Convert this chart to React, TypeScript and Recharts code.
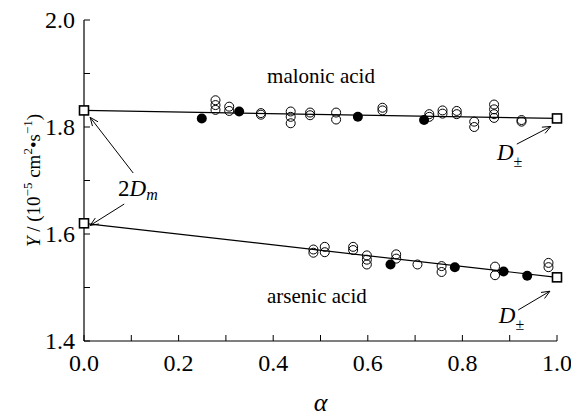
import { ComposedChart, XAxis, YAxis, Line, Scatter, ReferenceLine, ReferenceDot } from "recharts";

const X_TICKS = [0, 0.1, 0.2, 0.3, 0.4, 0.5, 0.6, 0.7, 0.8, 0.9, 1.0];
const Y_TICKS = [1.4, 1.5, 1.6, 1.7, 1.8, 1.9, 2.0];

// [alpha, Y]
const malonicOpen = [
  [0.278, 1.850], [0.278, 1.841], [0.278, 1.832],
  [0.307, 1.838], [0.307, 1.830],
  [0.374, 1.826], [0.374, 1.823],
  [0.437, 1.829], [0.437, 1.819], [0.437, 1.807],
  [0.478, 1.827], [0.478, 1.822],
  [0.533, 1.827], [0.533, 1.814],
  [0.631, 1.836], [0.631, 1.831],
  [0.730, 1.824], [0.730, 1.819],
  [0.758, 1.831], [0.758, 1.825],
  [0.788, 1.830], [0.788, 1.824],
  [0.825, 1.810], [0.825, 1.800],
  [0.867, 1.842], [0.867, 1.833], [0.867, 1.824], [0.867, 1.817],
  [0.925, 1.813], [0.925, 1.810],
];
const malonicFilled = [[0.249, 1.816], [0.328, 1.829], [0.579, 1.819], [0.719, 1.813]];
const malonicEnds = [[0, 1.831], [1, 1.816]];

const arsenicOpen = [
  [0.485, 1.571], [0.485, 1.565],
  [0.509, 1.576], [0.509, 1.566],
  [0.569, 1.576], [0.569, 1.570],
  [0.598, 1.560], [0.598, 1.552], [0.598, 1.543],
  [0.660, 1.562], [0.660, 1.554],
  [0.705, 1.543],
  [0.756, 1.540], [0.756, 1.529],
  [0.869, 1.539], [0.869, 1.523],
  [0.982, 1.546], [0.982, 1.538],
];
const arsenicFilled = [[0.648, 1.543], [0.784, 1.538], [0.887, 1.530], [0.937, 1.522]];
const arsenicEnds = [[0, 1.620], [1, 1.519]];

const toPts = (arr: number[][]) => arr.map(([a, y]) => ({ a, y }));

const FONT = "'Liberation Serif', 'Times New Roman', serif";
const ax = { xAxisId: "b", yAxisId: "l" };

const isMajor = (v: number) => Math.round(v * 10) % 2 === 0;

const BottomTick = (p: any) => (
  <g>
    <line x1={p.x} y1={p.y} x2={p.x} y2={p.y - 6} stroke="#000" />
    {isMajor(p.payload.value) && (
      <text x={p.x} y={p.y + 30} textAnchor="middle" fontSize={24} fontFamily={FONT} fill="#000">
        {p.payload.value.toFixed(1)}
      </text>
    )}
  </g>
);
const TopTick = (p: any) => <line x1={p.x} y1={p.y} x2={p.x} y2={p.y + 6} stroke="#000" />;
const LeftTick = (p: any) => (
  <g>
    <line x1={p.x} y1={p.y} x2={p.x + 6} y2={p.y} stroke="#000" />
    {isMajor(p.payload.value) && (
      <text x={p.x - 9} y={p.y + 8} textAnchor="end" fontSize={24} fontFamily={FONT} fill="#000">
        {p.payload.value.toFixed(1)}
      </text>
    )}
  </g>
);
const RightTick = (p: any) => <line x1={p.x} y1={p.y} x2={p.x - 6} y2={p.y} stroke="#000" />;

const OpenDot = (p: any) => <circle cx={p.cx} cy={p.cy} r={4.5} fill="none" stroke="#000" strokeWidth={1} />;
const FilledDot = (p: any) => <circle cx={p.cx} cy={p.cy} r={5} fill="#000" />;
const Square = (p: any) => (
  <rect x={p.cx - 4.5} y={p.cy - 4.5} width={9} height={9} fill="#fff" stroke="#000" strokeWidth={1.6} />
);

const Arrow = (p: any) => {
  const { x1, y1, x2, y2 } = p;
  const ang = Math.atan2(y2 - y1, x2 - x1);
  const L = 9, w = 0.4;
  const h1 = [x2 - L * Math.cos(ang - w), y2 - L * Math.sin(ang - w)];
  const h2 = [x2 - L * Math.cos(ang + w), y2 - L * Math.sin(ang + w)];
  return (
    <g stroke="#000" strokeWidth={1} fill="none">
      <line x1={x1} y1={y1} x2={x2} y2={y2} />
      <polyline points={`${h1[0]},${h1[1]} ${x2},${y2} ${h2[0]},${h2[1]}`} />
    </g>
  );
};

const arrows = [
  [[0.104, 1.714], [0.013, 1.818]],
  [[0.085, 1.656], [0.013, 1.616]],
  [[0.915, 1.768], [0.987, 1.801]],
  [[0.918, 1.458], [0.985, 1.493]],
];

const Txt = (children: any, size = 20, anchor = "start") => (p: any) => (
  <text x={p.cx} y={p.cy} fontSize={size} fontFamily={FONT} textAnchor={anchor} fill="#000">{children}</text>
);

const YLabel = (p: any) => {
  const vb = p.viewBox;
  const cx = 40, cy = vb.y + vb.height / 2;
  return (
    <text transform={`translate(${cx},${cy}) rotate(-90)`} textAnchor="middle" fontSize={19} fontFamily={FONT} fill="#000">
      <tspan fontStyle="italic">Y</tspan>
      <tspan> / (10</tspan>
      <tspan dy={-8} fontSize={13}>−5</tspan>
      <tspan dy={8}> cm</tspan>
      <tspan dy={-8} fontSize={13}>2</tspan>
      <tspan dy={8}>•s</tspan>
      <tspan dy={-8} fontSize={13}>−1</tspan>
      <tspan dy={8}>)</tspan>
    </text>
  );
};

const XLabel = (p: any) => {
  const vb = p.viewBox;
  return (
    <text x={vb.x + vb.width / 2} y={411} textAnchor="middle" fontSize={26} fontStyle="italic" fontFamily={FONT} fill="#000">α</text>
  );
};

export default function App() {
  return (
    <div style={{ position: "absolute", left: 0, top: 0, background: "#fff" }}>
      <ComposedChart width={571} height={419} margin={{ top: 20, right: 14, bottom: 0, left: 0 }}>
        <XAxis xAxisId="b" type="number" dataKey="a" domain={[0, 1]} ticks={X_TICKS} height={78}
          tickSize={0} tickMargin={0} tickLine={false} tick={BottomTick} axisLine={{ stroke: "#000", strokeWidth: 1.2 }}
          label={<XLabel />} />
        <XAxis xAxisId="t" orientation="top" type="number" dataKey="a" domain={[0, 1]} ticks={X_TICKS} height={0}
          tickSize={0} tickMargin={0} tickLine={false} tick={TopTick} axisLine={{ stroke: "#000", strokeWidth: 1.2 }} />
        <YAxis yAxisId="l" type="number" domain={[1.4, 2.0]} ticks={Y_TICKS} width={84}
          tickSize={0} tickMargin={0} tickLine={false} tick={LeftTick} axisLine={{ stroke: "#000", strokeWidth: 1.2 }}
          label={<YLabel />} />
        <YAxis yAxisId="r" orientation="right" type="number" domain={[1.4, 2.0]} ticks={Y_TICKS} width={0}
          tickSize={0} tickMargin={0} tickLine={false} tick={RightTick} axisLine={{ stroke: "#000", strokeWidth: 1.2 }} />

        <Line {...ax} data={toPts(malonicEnds)} dataKey="y" stroke="#000" strokeWidth={1.2} dot={false} isAnimationActive={false} />
        <Line {...ax} data={toPts(arsenicEnds)} dataKey="y" stroke="#000" strokeWidth={1.2} dot={false} isAnimationActive={false} />

        <Scatter {...ax} data={toPts(malonicOpen)} dataKey="y" shape={OpenDot} isAnimationActive={false} />
        <Scatter {...ax} data={toPts(arsenicOpen)} dataKey="y" shape={OpenDot} isAnimationActive={false} />
        <Scatter {...ax} data={toPts(malonicFilled)} dataKey="y" shape={FilledDot} isAnimationActive={false} />
        <Scatter {...ax} data={toPts(arsenicFilled)} dataKey="y" shape={FilledDot} isAnimationActive={false} />
        <Scatter {...ax} data={toPts([...malonicEnds, ...arsenicEnds])} dataKey="y" shape={Square} isAnimationActive={false} />

        {arrows.map(([s, e], i) => (
          <ReferenceLine key={i} {...ax} segment={[{ x: s[0], y: s[1] }, { x: e[0], y: e[1] }]} shape={Arrow} ifOverflow="visible" />
        ))}

        <ReferenceDot {...ax} x={0.387} y={1.882} r={0} shape={Txt("malonic acid", 21)} ifOverflow="visible" />
        <ReferenceDot {...ax} x={0.387} y={1.471} r={0} shape={Txt("arsenic acid", 21)} ifOverflow="visible" />
        <ReferenceDot {...ax} x={0.072} y={1.671} r={0} ifOverflow="visible"
          shape={Txt(<><tspan>2</tspan><tspan fontStyle="italic">D</tspan><tspan fontStyle="italic" fontSize={16} dy={4}>m</tspan></>, 23)} />
        <ReferenceDot {...ax} x={0.873} y={1.738} r={0} ifOverflow="visible"
          shape={Txt(<><tspan fontStyle="italic">D</tspan><tspan fontSize={16} dy={7}>±</tspan></>, 23)} />
        <ReferenceDot {...ax} x={0.877} y={1.434} r={0} ifOverflow="visible"
          shape={Txt(<><tspan fontStyle="italic">D</tspan><tspan fontSize={16} dy={7}>±</tspan></>, 23)} />
      </ComposedChart>
    </div>
  );
}
